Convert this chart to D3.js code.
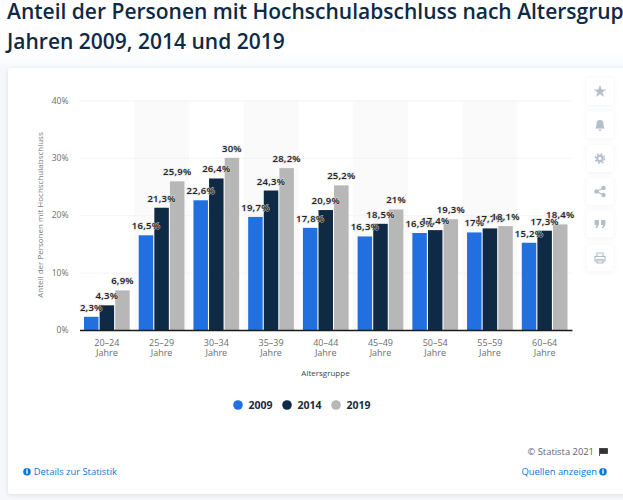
<!DOCTYPE html>
<html>
<head>
<meta charset="utf-8">
<script src="https://cdn.jsdelivr.net/npm/d3@7"></script>
<style>
html, body { margin: 0; padding: 0; background: #fff; overflow: hidden; }
svg { display: block; }
text { font-family: "Open Sans", sans-serif; }
</style>
</head>
<body>
<svg id="chart" width="623" height="500"></svg>
<script>
var categories = ["20-24", "25-29", "30-34", "35-39", "40-44", "45-49", "50-54", "55-59", "60-64"];
var years = ["2009", "2014", "2019"];
var values2009 = [2.3, 16.5, 22.6, 19.7, 17.8, 16.3, 16.9, 17, 15.2];
var values2014 = [4.3, 21.3, 26.4, 24.3, 20.9, 18.5, 17.4, 17.7, 17.3];
var values2019 = [6.9, 25.9, 30, 28.2, 25.2, 21, 19.3, 18.1, 18.4];
var yTicks = [0, 10, 20, 30, 40];
var colors = ["#2270e0", "#0f2a45", "#b7b7b7"];

var seriesValues = [values2009, values2014, values2019];
var svg = d3.select("#chart");

var defs = svg.append("defs");
var shadow = defs.append("filter").attr("id", "cardShadow")
    .attr("x", "-5%").attr("y", "-5%").attr("width", "110%").attr("height", "110%");
shadow.append("feDropShadow").attr("dx", 0).attr("dy", 1).attr("stdDeviation", 2)
    .attr("flood-color", "#aab4c2").attr("flood-opacity", 0.35);
var btnShadow = defs.append("filter").attr("id", "btnShadow")
    .attr("x", "-30%").attr("y", "-30%").attr("width", "160%").attr("height", "160%");
btnShadow.append("feDropShadow").attr("dx", 0).attr("dy", 0.5).attr("stdDeviation", 2)
    .attr("flood-color", "#c3ccd8").attr("flood-opacity", 0.3);
var fade = defs.append("linearGradient").attr("id", "pageFade").attr("x1", 0).attr("x2", 0).attr("y1", 0).attr("y2", 1);
fade.append("stop").attr("offset", 0).attr("stop-color", "#fff");
fade.append("stop").attr("offset", 1).attr("stop-color", "#f5f7fa");

// page and card
svg.append("rect").attr("y", 52).attr("width", 623).attr("height", 18).attr("fill", "url(#pageFade)");
svg.append("rect").attr("y", 70).attr("width", 623).attr("height", 430).attr("fill", "#f5f7fa");
svg.append("rect").attr("x", 8).attr("y", 68).attr("width", 640).attr("height", 426).attr("rx", 3)
    .attr("fill", "#fff").attr("filter", "url(#cardShadow)");

// title
var title = svg.append("g").attr("fill", "#0f2a45").attr("font-size", 21).attr("font-weight", 600);
title.append("text").attr("x", 7).attr("y", 19).text("Anteil der Personen mit Hochschulabschluss nach Altersgruppe in den");
title.append("text").attr("x", 7).attr("y", 49).text("Jahren 2009, 2014 und 2019");

var x = d3.scaleBand().domain(categories).range([79.5, 572]);
var inner = d3.scaleBand().domain(years).range([4.5, x.bandwidth() - 4.5]).paddingInner(0.07);
var y = d3.scaleLinear().domain([0, 40]).range([330, 100.4]);

// alternating bands
svg.append("g").selectAll("rect")
    .data(categories.filter(function(d, i) { return i % 2 === 1; }))
    .enter().append("rect")
    .attr("x", function(d) { return x(d); })
    .attr("y", y(40))
    .attr("width", x.bandwidth())
    .attr("height", y(0) - y(40))
    .attr("fill", "#fafafb");

// grid lines and y labels
var yAxis = d3.axisLeft(y).tickValues(yTicks).tickSize(0).tickPadding(11)
    .tickFormat(function(d) { return d + "%"; });
var yG = svg.append("g").attr("transform", "translate(79.5,0)").call(yAxis);
yG.select(".domain").remove();
yG.selectAll("text").attr("font-size", 8.5).attr("fill", "#6d6d6d").attr("font-family", "Open Sans, sans-serif");
yG.selectAll(".tick").filter(function(d) { return d > 0; }).append("line")
    .attr("x2", 492.5).attr("stroke", "#efefef").attr("stroke-width", 1).attr("stroke-dasharray", "2,1");

// bars
var groups = svg.append("g").selectAll("g")
    .data(years)
    .enter().append("g")
    .attr("fill", function(d, i) { return colors[i]; });

groups.selectAll("rect")
    .data(function(d, i) {
        return seriesValues[i].map(function(v, j) { return { year: d, cat: categories[j], value: v }; });
    })
    .enter().append("rect")
    .attr("x", function(d) { return x(d.cat) + inner(d.year); })
    .attr("y", function(d) { return y(d.value); })
    .attr("width", inner.bandwidth())
    .attr("height", function(d) { return y(0) - y(d.value); });

// value labels, drawn in series order so later ones sit on top
var labels = svg.append("g").selectAll("g")
    .data(years)
    .enter().append("g");

labels.selectAll("text")
    .data(function(d, i) {
        return seriesValues[i].map(function(v, j) { return { year: d, cat: categories[j], value: v }; });
    })
    .enter().append("text")
    .attr("x", function(d) { return x(d.cat) + inner(d.year) + inner.bandwidth() / 2; })
    .attr("y", function(d) { return y(d.value) - 6; })
    .attr("text-anchor", "middle")
    .attr("font-size", 9.5)
    .attr("font-weight", 600)
    .attr("letter-spacing", 0.25)
    .attr("fill", "#222")
    .attr("stroke", "#d8d8d8")
    .attr("stroke-width", 1.3)
    .attr("stroke-opacity", 0.75)
    .attr("paint-order", "stroke")
    .text(function(d) { return String(d.value).replace(".", ",") + "%"; });

// x axis
var xAxis = d3.axisBottom(x).tickSize(0).tickPadding(10);
var xG = svg.append("g").attr("transform", "translate(0,330)").call(xAxis);
xG.select(".domain").attr("stroke", "#1b1b1b").attr("stroke-width", 1.4);
xG.selectAll("text").remove();
xG.selectAll(".tick").each(function(d) {
    var t = d3.select(this).append("text").attr("text-anchor", "middle")
        .attr("font-size", 9).attr("fill", "#6d6d6d").attr("font-family", "Open Sans, sans-serif");
    t.append("tspan").attr("x", 0).attr("y", 16).text(d.replace("-", "–"));
    t.append("tspan").attr("x", 0).attr("y", 26).text("Jahre");
});

// axis titles
svg.append("text").attr("x", 325.5).attr("y", 375.5).attr("text-anchor", "middle")
    .attr("font-size", 8).attr("fill", "#444").text("Altersgruppe");
svg.append("text").attr("transform", "translate(43,215) rotate(-90)").attr("text-anchor", "middle")
    .attr("font-size", 8).attr("fill", "#7a7a7a").text("Anteil der Personen mit Hochschulabschluss");

// legend
var legendX = d3.scalePoint().domain(years).range([238, 336]);
var legend = svg.append("g").selectAll("g")
    .data(years)
    .enter().append("g")
    .attr("transform", function(d) { return "translate(" + legendX(d) + ",405)"; });
legend.append("circle").attr("r", 4.8).attr("fill", function(d, i) { return colors[i]; });
legend.append("text").attr("x", 10.5).attr("y", 3.6)
    .attr("font-size", 10.5).attr("font-weight", 700).attr("fill", "#1b2a3a")
    .text(function(d) { return d; });

// footer
svg.append("text").attr("x", 594).attr("y", 455).attr("text-anchor", "end")
    .attr("font-size", 9.4).attr("fill", "#5d6670").text("© Statista 2021");
svg.append("path").attr("d", "M599.5 448v8M600 448.5h7.5v5h-7.5z").attr("fill", "#333").attr("stroke", "#333").attr("stroke-width", 0.8);

svg.append("text").attr("x", 33.8).attr("y", 475).attr("font-size", 9.4).attr("fill", "#0a78d6").text("Details zur Statistik");
svg.append("text").attr("x", 597).attr("y", 475).attr("text-anchor", "end").attr("font-size", 9.4).attr("fill", "#0a78d6").text("Quellen anzeigen");
[27, 603].forEach(function(cx) {
    svg.append("circle").attr("cx", cx).attr("cy", 471.7).attr("r", 3.8).attr("fill", "#0a78d6");
    svg.append("rect").attr("x", cx - 0.7).attr("y", 470.2).attr("width", 1.4).attr("height", 3.6).attr("fill", "#fff");
    svg.append("rect").attr("x", cx - 0.7).attr("y", 468.7).attr("width", 1.4).attr("height", 1).attr("fill", "#fff");
});

// side buttons
var iconY = [91.5, 125, 158.5, 191.5, 224, 258];
var buttons = svg.append("g").selectAll("g")
    .data(iconY)
    .enter().append("g")
    .attr("transform", function(d) { return "translate(600," + d + ")"; });
buttons.append("rect").attr("x", -13.5).attr("y", -13.5).attr("width", 27).attr("height", 27).attr("rx", 3)
    .attr("fill", "#fff").attr("filter", "url(#btnShadow)");
var iconColor = "#b4bfcc";
d3.select(buttons.nodes()[0]).append("path").attr("d", d3.symbol(d3.symbolStar, 50)()).attr("fill", iconColor);
d3.select(buttons.nodes()[1]).append("path").attr("d", "M-5 3.5C-3.5 2-3.5 0-3.5-1.5A3.5 3.5 0 0 1 3.5-1.5C3.5 0 3.5 2 5 3.5ZM-1.5 4.5h3a1.5 1.5 0 0 1-3 0Z").attr("fill", iconColor);
d3.select(buttons.nodes()[2]).call(function(g) {
    g.append("circle").attr("r", 2.8).attr("fill", "none").attr("stroke", iconColor).attr("stroke-width", 2);
    g.append("circle").attr("r", 4.6).attr("fill", "none").attr("stroke", iconColor).attr("stroke-width", 1.6).attr("stroke-dasharray", "1.8,1.8");
});
d3.select(buttons.nodes()[3]).call(function(g) {
    g.append("path").attr("d", "M3.5-3.5L-3.5 0L3.5 3.5").attr("fill", "none").attr("stroke", iconColor).attr("stroke-width", 1.2);
    [[3.5, -3.5], [-3.5, 0], [3.5, 3.5]].forEach(function(p) {
        g.append("circle").attr("cx", p[0]).attr("cy", p[1]).attr("r", 2.2).attr("fill", iconColor);
    });
});
d3.select(buttons.nodes()[4]).append("path").attr("d", "M-5.5-4h4.5v4.5l-2 3.5h-1.6l1.3-3h-2.2ZM1-4h4.5v4.5l-2 3.5H1.9l1.3-3H1Z").attr("fill", iconColor);
d3.select(buttons.nodes()[5]).append("path").attr("d", "M-3-1.5V-5H3V-1.5M-5-1.5H5V3H-5ZM-3 1.5V5H3V1.5Z").attr("fill", "#fff").attr("stroke", iconColor).attr("stroke-width", 1.2);
</script>
</body>
</html>
